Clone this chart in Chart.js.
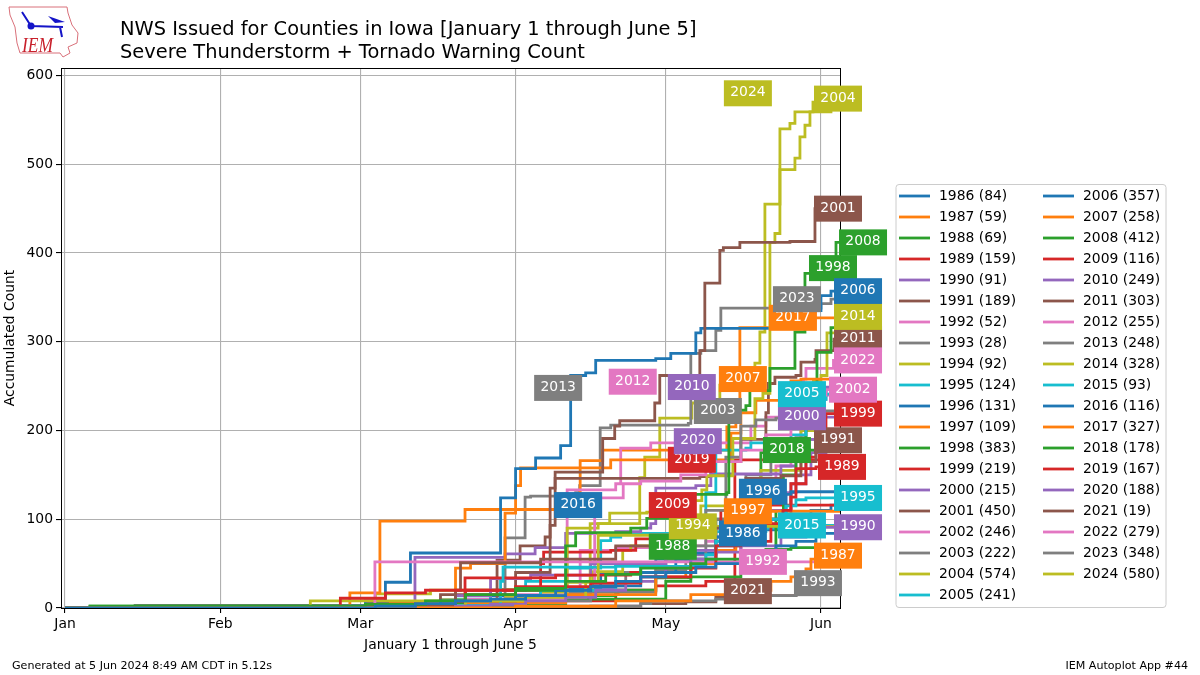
<!DOCTYPE html>
<html>
<head>
<meta charset="utf-8">
<title>NWS Warning Count</title>
<script src="https://cdn.jsdelivr.net/npm/chart.js@4"></script>
<style>
  body { margin: 0; background: #fff; }
  #wrap { position: relative; width: 1200px; height: 675px; }
  #logo { position: absolute; left: 8px; top: 5px; }
</style>
</head>
<body>
<div id="wrap">
  <canvas id="myChart" width="1200" height="675"></canvas>
  <svg id="logo" width="76" height="60" viewBox="0 0 76 60">
    <path d="M1 2 L59 2 L60 8 L64 20 L70 28 L69 38 L60 42 L62 48 L55 52 L52 48 L12 48 L9 38 L7 22 L2 10 Z" fill="none" stroke="#d9707a" stroke-width="1"/>
    <path d="M14 7 L23 21 L55 22 M52 22 L54 32" stroke="#1414c8" stroke-width="2" fill="none"/>
    <path d="M40 11 L57 17 L47 18 Z" fill="#1414c8"/>
    <circle cx="23" cy="21" r="3.5" fill="#1414c8"/>
    <text x="14" y="47" font-family="Liberation Serif" font-style="italic" font-size="22" fill="#c8202c" textLength="31" lengthAdjust="spacingAndGlyphs">IEM</text>
  </svg>
</div>
<script>
// warning counts: [day of year, accumulated count]
const y1986 = [[0,0],[62,2],[70,5],[78,8],[85,10],[92,14],[100,20],[105,24],[110,30],[115,35],[120,40],[126,46],[130,50],[137,55],[140,62],[142,70],[146,75],[150,84],[155,84]];
const y1987 = [[0,0],[90,2],[110,8],[125,15],[135,20],[141,30],[145,35],[148,44],[149,55],[150,59],[155,59]];
const y1988 = [[0,0],[5,2],[60,4],[72,8],[80,15],[90,22],[100,30],[108,38],[115,45],[125,50],[128,55],[135,62],[140,66],[145,68],[150,69],[155,69]];
const y1989 = [[0,0],[55,11],[64,17],[72,20],[90,24],[105,28],[115,35],[125,45],[130,70],[135,95],[143.4,110],[145,125],[146,157],[150,159],[155,159]];
const y1990 = [[0,0],[78,2],[85,4],[92,8],[100,12],[106,20],[112,30],[115,35],[120,45],[125,55],[130,63],[135,70],[143,80],[148,85],[150,91],[155,91]];
const y1991 = [[0,0],[60,2],[78,20],[79,51],[95,55],[110,70],[125,90],[135,125],[136,146],[143,149],[147,165],[150,180],[152,189],[155,189]];
const y1992 = [[0,0],[40,1],[61.9,3],[61.9,52],[155,52]];
const y1993 = [[0,0],[80,2],[115,5],[117,8],[130,10],[138,14],[146,20],[147,28],[155,28]];
const y1994 = [[0,0],[62,2],[80,8],[92,12],[104,30],[106.5,42],[106.5,82],[125,84],[130,92],[155,92]];
const y1995 = [[0,0],[60,3],[87,30],[87.5,46],[110,47],[125,47],[128,60],[130,75],[135,90],[140,100],[144,115],[146,122],[148,124],[155,124]];
const y1996 = [[0,0],[75,8],[90,14],[98,20],[105,25],[115,40],[122,55],[130,80],[136,92],[140,100],[144,128],[145,131],[155,131]];
const y1997 = [[0,0],[80,6],[100,15],[118,35],[124,40],[125,50],[130,65],[134,85],[136,105],[138,109],[155,109]];
const y1998 = [[0,0],[60,3],[90,20],[100,70],[102,85],[113,90],[116.2,101],[123.4,128],[132.2,130],[132.6,223],[136,228],[136.8,245],[140.8,249],[140.8,270],[145.8,273],[145.8,311],[147.8,361],[147.8,377],[149,383],[155,383]];
const y1999 = [[0,0],[60,3],[79.9,22],[79.9,34],[98,37],[113,40],[125,50],[135,75],[141,100],[145,140],[148,170],[150,200],[152,219],[155,219]];
const y2000 = [[0,0],[77,8],[78,14],[85,33],[93,37],[105,50],[120,65],[130,90],[138,110],[145,140],[148,190],[150,215],[155,215]];
const y2001 = [[0,0],[62,3],[75,15],[90,40],[96.9,135],[97.9,153],[107.4,191],[109.8,205],[110.8,211],[117.8,231],[118.8,262],[126.8,290],[127.8,366],[130.8,403],[131.5,406],[134.8,412],[144.8,413],[149.8,450],[155,450]];
const y2002 = [[0,0],[80,10],[100,30],[105.8,124],[111.5,140],[115,143],[123,150],[128,165],[135,178],[140,195],[145,210],[149,225],[150,240],[152,246],[155,246]];
const y2003 = [[0,0],[70,3],[85,8],[105,25],[112,40],[120,55],[128,110],[132,170],[135,205],[138,212],[142,214],[150,222],[155,222]];
const y2004 = [[0,0],[37,1],[49,8],[75,9],[88,12],[100.3,90],[106.5,95],[108.8,107],[116.2,108],[125.8,121],[127.2,133],[128.2,149],[133.4,191],[137.8,236],[139.4,242],[140.8,412],[141.8,422],[142.8,494],[145.8,507],[146.8,531],[147.8,544],[148.8,559],[149.4,570],[150.8,574],[155,574]];
const y2005 = [[0,0],[80,8],[95,20],[110,50],[120,80],[128,130],[130,178],[136,180],[137,186],[140,188],[145,195],[148,215],[150,235],[152,241],[155,241]];
const y2006 = [[0,0],[40,2],[60,8],[64,29],[69,62],[87,124],[90,157],[94,169],[99,183],[101,262],[104,265],[106,279],[118,281],[121,287],[126,310],[127,315],[135,315],[141,322],[147,335],[151,352],[153,357],[155,357]];
const y2007 = [[0,0],[65,5],[78,45],[81,50],[87.9,107],[90,138],[91,158],[109,167],[121,167],[133,197],[135,220],[138,234],[143,240],[145,256],[147,258],[155,258]];
const y2008 = [[0,0],[5,2],[60,4],[100,10],[120,30],[125,35],[135,60],[142,110],[143.5,150],[146,180],[148,240],[150.2,288],[153,316],[154,412],[155,412]];
const y2009 = [[0,0],[50,1],[70,5],[80,20],[95,50],[95.6,63],[109,65],[114,78],[117,82],[125,92],[131,110],[133,116],[155,116]];
const y2010 = [[0,0],[55,2],[69.9,57],[87.9,61],[93.9,68],[100,84],[110,86],[115,90],[117,95],[118,135],[126,138],[129,151],[143,160],[146,190],[150,235],[152,249],[155,249]];
const y2011 = [[0,0],[60,5],[86.3,54],[90.9,70],[95.9,80],[96.9,93],[97.9,146],[126.8,148],[129,165],[135,190],[140,220],[140.5,253],[141.8,260],[146,262],[147,277],[149.8,280],[150,290],[153.6,303],[155,303]];
const y2012 = [[0,0],[70,3],[90,12],[100.3,133],[110,140],[111,180],[117,186],[127,186],[137,205],[140,215],[143,234],[148,240],[155,255]];
const y2013 = [[0,0],[75,4],[100,18],[118,42],[124,70],[130,100],[136,150],[141,180],[143,185],[146,192],[148,210],[150,240],[152,248],[155,248]];
const y2014 = [[0,0],[50,1],[75,3],[95,18],[105.4,41],[111.4,65],[113,70],[121,87],[127,115],[139,155],[147,200],[149.5,256],[151,262],[152.2,310],[154,328],[155,328]];
const y2015 = [[0,0],[70,5],[78,10],[85,20],[92,30],[100,45],[107,76],[109,80],[111,84],[130,86],[140,90],[146,93],[155,93]];
const y2016 = [[0,0],[60,5],[75,9],[85,14],[95,22],[107,40],[115,48],[118,55],[125,62],[130,70],[135,88],[145,100],[149,110],[153,116],[155,116]];
const y2017 = [[0,0],[40,2],[56.9,17],[62.9,98],[79.9,111],[102.9,166],[106.3,166],[107.4,178],[121.4,178],[132.2,204],[134,220],[134.8,316],[146.8,327],[155,327]];
const y2018 = [[0,0],[5,1],[75,4],[90,8],[100,14],[110,20],[118,34],[125,50],[130,100],[135,140],[139,175],[141,178],[155,178]];
const y2019 = [[0,0],[60,2],[90,8],[110,15],[110.5,20],[118,25],[128,30],[133.8,167],[155,167]];
const y2020 = [[0,0],[70,3],[80,6],[90,10],[100,15],[105,22],[110,30],[118,45],[125,60],[130,80],[138,100],[144,130],[146,150],[149,175],[152,188],[155,188]];
const y2021 = [[0,0],[105,2],[115,5],[124,7],[130,12],[140,14],[146,19],[155,19]];
const y2022 = [[0,0],[70,2],[90,15],[102.9,65],[110,68],[118,70],[128,75],[135,100],[138,125],[142,160],[145,190],[147,205],[147.5,258],[148,270],[153.5,279],[155,279]];
const y2023 = [[0,0],[14,3],[87.9,79],[91.9,125],[93,126],[102,130],[102.8,138],[106.9,203],[109,206],[124.5,208],[125,287],[127,290],[130,313],[131,338],[149,338],[151,343],[153,348],[155,348]];
const y2024 = [[0,0],[62,16],[73,20],[87,21],[100,29],[104.9,95],[114.8,147],[115.8,170],[118.8,214],[125.2,231],[130.8,251],[137.8,276],[138.8,311],[139.8,455],[142.8,540],[144.8,546],[145.8,559],[153,580],[155,580]];

const years = [1986,1987,1988,1989,1990,1991,1992,1993,1994,1995,1996,1997,1998,1999,2000,2001,2002,2003,2004,2005,2006,2007,2008,2009,2010,2011,2012,2013,2014,2015,2016,2017,2018,2019,2020,2021,2022,2023,2024];
const counts = [y1986,y1987,y1988,y1989,y1990,y1991,y1992,y1993,y1994,y1995,y1996,y1997,y1998,y1999,y2000,y2001,y2002,y2003,y2004,y2005,y2006,y2007,y2008,y2009,y2010,y2011,y2012,y2013,y2014,y2015,y2016,y2017,y2018,y2019,y2020,y2021,y2022,y2023,y2024];

// day of year where each year's tag sits, the tag height is the year's total
const tagDays = [135.4,154.4,121.4,155.2,158.4,154.4,139.4,150.4,125.4,158.4,139.4,136.4,153.4,158.4,147.2,154.4,157.4,130.4,154.4,147.2,158.4,135.4,159.4,121.4,125.2,158.4,113.4,98.5,158.4,147.2,102.5,145.4,144.2,125.2,126.4,136.4,158.4,146.2,136.4];

const monthStarts = [0,31,59,90,120,151];
const monthNames = ['Jan','Feb','Mar','Apr','May','Jun'];
const countTicks = [0,100,200,300,400,500,600];
const palette = ['#1f77b4','#ff7f0e','#2ca02c','#d62728','#9467bd','#8c564b','#e377c2','#7f7f7f','#bcbd22','#17becf'];
const font = 'DejaVu Sans';

const datasets = years.map((yr, i) => {
  const pts = counts[i];
  return {
    label: yr + ' (' + pts[pts.length - 1][1] + ')',
    data: pts.map(p => ({x: p[0], y: p[1]})),
    borderColor: palette[i % 10],
    backgroundColor: palette[i % 10],
    borderWidth: 2.8,
    stepped: 'before',
    pointRadius: 0,
    fill: false,
  };
});

// frame, year tags, legend, headings
const decorate = {
  id: 'decorate',
  afterDatasetsDraw(chart) {
    const c = chart.ctx, a = chart.chartArea;
    const xs = chart.scales.x, ys = chart.scales.y;
    c.save();
    c.strokeStyle = '#000';
    c.lineWidth = 1;
    c.strokeRect(Math.round(a.left) + 0.5, Math.round(a.top) + 0.5, Math.round(a.right - a.left), Math.round(a.bottom - a.top));

    c.font = '13.9px "' + font + '"';
    c.textAlign = 'center';
    c.textBaseline = 'middle';
    years.forEach((yr, i) => {
      const pts = counts[i];
      const px = xs.getPixelForValue(tagDays[i]);
      const py = ys.getPixelForValue(pts[pts.length - 1][1]);
      c.fillStyle = palette[i % 10];
      c.fillRect(px - 24, py - 13, 48, 26);
      c.fillStyle = '#fff';
      c.fillText(String(yr), px, py - 0.5);
    });

    // two column legend
    c.fillStyle = '#fff';
    c.strokeStyle = '#cccccc';
    c.lineWidth = 1;
    c.beginPath();
    c.roundRect(896, 184.5, 270, 423, 3);
    c.fill();
    c.stroke();
    c.textAlign = 'left';
    chart.data.datasets.forEach((ds, i) => {
      const col = i < 20 ? 0 : 1;
      const row = i < 20 ? i : i - 20;
      const ly = 196 + row * 21;
      const lx = 899 + col * 144;
      c.strokeStyle = ds.borderColor;
      c.lineWidth = 2.8;
      c.beginPath();
      c.moveTo(lx, ly);
      c.lineTo(lx + 31, ly);
      c.stroke();
      c.fillStyle = '#000';
      c.fillText(ds.label, lx + 40, ly);
    });

    c.fillStyle = '#000';
    c.textBaseline = 'alphabetic';
    c.font = '19.4px "' + font + '"';
    c.fillText('NWS Issued for Counties in Iowa [January 1 through June 5]', 120, 35);
    c.fillText('Severe Thunderstorm + Tornado Warning Count', 120, 58);
    c.font = '11.1px "' + font + '"';
    c.fillText('Generated at 5 Jun 2024 8:49 AM CDT in 5.12s', 12, 669);
    c.textAlign = 'right';
    c.fillText('IEM Autoplot App #44', 1188, 669);
    c.restore();
  }
};

const ctx = document.getElementById('myChart').getContext('2d');
const myChart = new Chart(ctx, {
  type: 'line',
  data: { datasets: datasets },
  plugins: [decorate],
  options: {
    responsive: false,
    animation: false,
    layout: { padding: { top: 68, right: 360, left: 0, bottom: 0 } },
    plugins: {
      legend: { display: false },
      title: { display: false },
      tooltip: { enabled: false },
    },
    scales: {
      x: {
        type: 'linear',
        min: -0.8,
        max: 154.8,
        afterFit(scale) { scale.height = 67; },
        afterBuildTicks(scale) { scale.ticks = monthStarts.map(v => ({value: v})); },
        grid: { color: '#b0b0b0', lineWidth: 1.1, tickColor: '#000', tickLength: 5 },
        border: { display: false },
        ticks: {
          autoSkip: false,
          maxRotation: 0,
          padding: 3,
          color: '#000',
          font: { family: font, size: 13.9 },
          callback: v => monthNames[monthStarts.indexOf(v)],
        },
        title: {
          display: true,
          text: 'January 1 through June 5',
          color: '#000',
          font: { family: font, size: 13.9 },
          padding: { top: 0, bottom: 21 },
        },
      },
      y: {
        min: 0,
        max: 608.5,
        afterFit(scale) { scale.width = 61; },
        afterBuildTicks(scale) { scale.ticks = countTicks.map(v => ({value: v})); },
        grid: { color: '#b0b0b0', lineWidth: 1.1, tickColor: '#000', tickLength: 5 },
        border: { display: false },
        ticks: {
          autoSkip: false,
          padding: 3,
          color: '#000',
          font: { family: font, size: 13.9 },
          callback: v => String(v),
        },
        title: {
          display: true,
          text: 'Accumulated Count',
          color: '#000',
          font: { family: font, size: 13.9 },
          padding: { top: 2, bottom: 0 },
        },
      },
    },
  },
});
</script>
</body>
</html>
